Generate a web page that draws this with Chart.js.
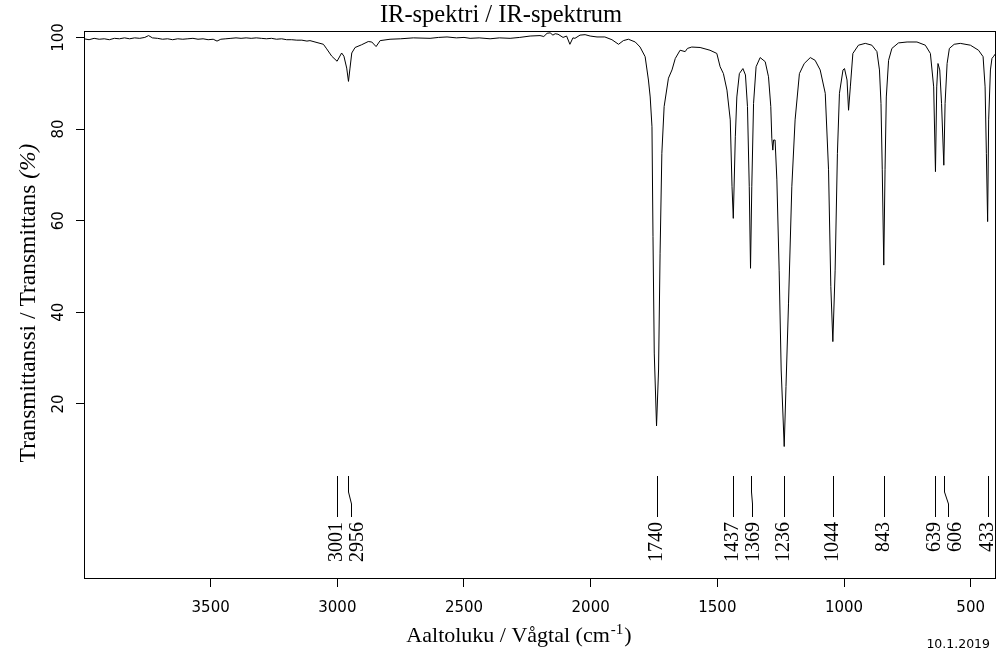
<!DOCTYPE html>
<html>
<head>
<meta charset="utf-8">
<script src="https://cdn.jsdelivr.net/npm/chart.js@4.4.0/dist/chart.umd.min.js"></script>
<style>
  html, body { margin: 0; padding: 0; background: #fff; }
  canvas { display: block; }
</style>
</head>
<body>
<canvas id="irChart" width="1008" height="667"></canvas>
<script>
// IR spectrum, wavenumber (cm-1) -> transmittance (%)
const wavenumbers = [
  4000, 3980, 3960, 3940, 3920, 3900, 3880, 3860, 3840, 3820,
  3800, 3780, 3760, 3745, 3730, 3710, 3690, 3670, 3650, 3630,
  3610, 3590, 3570, 3550, 3530, 3510, 3490, 3475, 3460, 3440,
  3420, 3400, 3380, 3360, 3340, 3320, 3300, 3280, 3260, 3240,
  3220, 3200, 3180, 3160, 3140, 3120, 3108, 3055, 3042, 3022,
  3001, 2983, 2974, 2963, 2956, 2950, 2943, 2930, 2904, 2878,
  2864, 2847, 2831, 2792, 2750, 2700, 2634, 2600, 2567, 2530,
  2500, 2476, 2440, 2397, 2360, 2318, 2280, 2239, 2200, 2185,
  2172, 2160, 2149, 2140, 2129, 2109, 2095, 2082, 2070, 2062,
  2042, 2022, 2002, 1975, 1944, 1916, 1890, 1871, 1851, 1824,
  1805, 1785, 1772, 1765, 1758, 1754, 1749, 1740, 1732, 1726,
  1719, 1710, 1693, 1679, 1666, 1647, 1627, 1618, 1601, 1568,
  1529, 1502, 1489, 1476, 1462, 1449, 1442, 1437, 1429, 1423,
  1413, 1399, 1389, 1381, 1374, 1369, 1364, 1357, 1347, 1331,
  1311, 1298, 1289, 1285, 1281, 1278, 1272, 1265, 1256, 1248,
  1236, 1229, 1219, 1206, 1193, 1176, 1157, 1133, 1114, 1094,
  1074, 1061, 1052, 1044, 1035, 1026, 1018, 1004, 998, 988,
  982, 975, 965, 943, 916, 890, 870, 860, 854, 849,
  843, 838, 833, 824, 811, 785, 751, 712, 679, 659,
  646, 639, 634, 629, 622, 615, 606, 601, 593, 584,
  565, 541, 501, 469, 451, 443, 438, 433, 429, 422,
  416, 409, 401
];
const transmittance = [
  99.7, 99.5, 99.8, 99.6, 99.7, 99.5, 99.8, 99.7, 99.9, 99.7,
  99.9, 99.8, 100.0, 100.4, 99.9, 99.8, 99.6, 99.7, 99.5, 99.7,
  99.6, 99.7, 99.8, 99.6, 99.7, 99.5, 99.6, 99.2, 99.6, 99.7,
  99.8, 99.9, 99.8, 99.9, 99.8, 99.9, 99.8, 99.7, 99.8, 99.6,
  99.7, 99.5, 99.5, 99.4, 99.4, 99.2, 99.3, 98.5, 97.5, 95.9,
  94.8, 96.6, 95.9, 93.3, 90.4, 93.3, 96.6, 97.8, 98.4, 99.1,
  99.0, 98.0, 99.3, 99.6, 99.7, 99.9, 99.8, 100.0, 100.1, 99.9,
  100.0, 99.8, 99.9, 99.7, 99.9, 99.8, 100.0, 100.3, 100.4, 100.2,
  100.9, 101.0, 100.5, 100.8, 100.7, 100.0, 100.3, 98.5, 99.9, 99.8,
  100.5, 100.6, 100.3, 100.1, 100.1, 99.5, 98.5, 99.3, 99.6, 99.0,
  97.9, 95.8, 90.7, 87.0, 80.5, 56.5, 31.1, 15.2, 27.4, 52.9,
  74.7, 84.9, 91.1, 92.9, 95.4, 97.2, 96.9, 97.6, 97.9, 97.8,
  97.2, 96.5, 93.6, 92.1, 88.5, 82.0, 67.4, 60.5, 78.3, 87.0,
  92.1, 93.2, 91.8, 84.9, 67.4, 49.6, 67.4, 85.6, 93.6, 95.6,
  94.7, 91.4, 84.9, 78.0, 75.4, 77.6, 77.6, 68.9, 49.2, 27.4,
  10.7, 23.8, 42.0, 67.4, 82.0, 92.1, 94.3, 95.6, 95.0, 92.9,
  87.8, 71.1, 45.6, 33.6, 49.2, 74.7, 87.8, 92.9, 93.2, 90.7,
  84.1, 89.2, 96.5, 98.3, 98.7, 98.3, 96.9, 92.9, 85.6, 71.1,
  50.3, 71.1, 87.0, 95.0, 97.6, 98.8, 99.0, 99.0, 98.3, 96.5,
  89.2, 70.7, 89.2, 94.3, 92.9, 85.6, 72.1, 85.6, 94.3, 97.6,
  98.5, 98.7, 98.3, 97.2, 95.8, 89.2, 74.7, 59.8, 82.0, 92.9,
  95.4, 95.9, 96.5
];
const peakLabels = [3001, 2956, 1740, 1437, 1369, 1236, 1044, 843, 639, 606, 433];
const xTicks = [3500, 3000, 2500, 2000, 1500, 1000, 500];
const yTicks = [20, 40, 60, 80, 100];

const serif = '"Liberation Serif", "DejaVu Serif", serif';
const sans = '"DejaVu Sans", sans-serif';

const points = wavenumbers.map((w, i) => ({ x: w, y: transmittance[i] }));

// push a crowded label to the right of its neighbour
function spreadLabels(xs, gap) {
    const out = [];
    xs.forEach((v, i) => {
        out.push(i > 0 && v - out[i - 1] < gap ? out[i - 1] + gap : v);
    });
    return out;
}

const decorations = {
    id: 'decorations',
    afterDraw(chart) {
        const { ctx, chartArea: a, scales: { x, y } } = chart;
        ctx.save();
        ctx.strokeStyle = '#000';
        ctx.fillStyle = '#000';
        ctx.lineWidth = 1;

        // plot frame
        ctx.strokeRect(a.left + 0.5, a.top + 0.5, a.right - a.left - 1, a.bottom - a.top);

        // y tick labels, rotated like the original
        ctx.font = '15px ' + sans;
        ctx.textAlign = 'center';
        ctx.textBaseline = 'alphabetic';
        yTicks.forEach(v => {
            ctx.save();
            ctx.translate(a.left - 21, y.getPixelForValue(v));
            ctx.rotate(-Math.PI / 2);
            ctx.fillText(String(v), 0, 0);
            ctx.restore();
        });

        // peak markers and labels
        const peakPx = peakLabels.map(p => x.getPixelForValue(p));
        const labelPx = spreadLabels(peakPx, 21);
        const top = a.bottom - 102, bendA = a.bottom - 86, bendB = a.bottom - 74, bottom = a.bottom - 61;
        ctx.font = '20px ' + serif;
        ctx.textAlign = 'right';
        peakLabels.forEach((p, i) => {
            const px = Math.round(peakPx[i]) + 0.5;
            const lx = Math.round(peakPx[i] + (labelPx[i] - peakPx[i]) * 0.3) + 0.5;
            ctx.beginPath();
            ctx.moveTo(px, top);
            ctx.lineTo(px, bendA);
            ctx.lineTo(lx, bendB);
            ctx.lineTo(lx, bottom);
            ctx.stroke();
            ctx.save();
            ctx.translate(labelPx[i] - 1.5 + 6.5, bottom + 5);
            ctx.rotate(-Math.PI / 2);
            ctx.fillText(String(p), 0, 0);
            ctx.restore();
        });

        // titles
        ctx.textAlign = 'center';
        ctx.font = '24.5px ' + serif;
        ctx.fillText('IR-spektri / IR-spektrum', 501, 22);

        // x title with superscript
        const main = 'Aaltoluku / Vågtal (cm';
        const sup = '-1';
        const close = ')';
        ctx.font = '22px ' + serif;
        const wMain = ctx.measureText(main).width;
        const wClose = ctx.measureText(close).width;
        ctx.font = '15px ' + serif;
        const wSup = ctx.measureText(sup).width;
        let sx = 518 - (wMain + wSup + wClose) / 2;
        ctx.textAlign = 'left';
        ctx.font = '22px ' + serif;
        ctx.fillText(main, sx, 642);
        ctx.font = '15px ' + serif;
        ctx.fillText(sup, sx + wMain + 1, 634);
        ctx.font = '22px ' + serif;
        ctx.fillText(close, sx + wMain + wSup + 2, 642);

        // y title, the unit in italics as in the original
        ctx.save();
        ctx.translate(35, 303);
        ctx.rotate(-Math.PI / 2);
        ctx.textAlign = 'left';
        const yMain = 'Transmittanssi / Transmittans ';
        const yUnit = '(%)';
        ctx.font = '23.5px ' + serif;
        const wYMain = ctx.measureText(yMain).width;
        ctx.font = 'italic 23.5px ' + serif;
        const wYUnit = ctx.measureText(yUnit).width;
        const sy = -(wYMain + wYUnit) / 2;
        ctx.font = '23.5px ' + serif;
        ctx.fillText(yMain, sy, 0);
        ctx.font = 'italic 23.5px ' + serif;
        ctx.fillText(yUnit, sy + wYMain, 0);
        ctx.restore();

        // date stamp
        ctx.font = '12.5px ' + sans;
        ctx.textAlign = 'right';
        ctx.fillText('10.1.2019', 990, 648);
        ctx.restore();
    }
};

new Chart(document.getElementById('irChart').getContext('2d'), {
    type: 'scatter',
    data: {
        datasets: [{
            data: points,
            showLine: true,
            borderColor: '#000',
            borderWidth: 1,
            pointRadius: 0,
            tension: 0
        }]
    },
    options: {
        responsive: false,
        animation: false,
        layout: { padding: { top: 31, right: 12, left: 0, bottom: 0 } },
        plugins: {
            legend: { display: false },
            tooltip: { enabled: false },
            title: { display: false }
        },
        scales: {
            x: {
                type: 'linear',
                reverse: true,
                min: 400,
                max: 4000,
                afterBuildTicks: scale => { scale.ticks = xTicks.map(v => ({ value: v })); },
                afterFit: scale => { scale.height = 89; },
                grid: { drawOnChartArea: false, drawTicks: true, tickLength: 9, color: '#000' },
                border: { display: false },
                ticks: {
                    color: '#000',
                    font: { family: sans, size: 15 },
                    padding: 12,
                    maxRotation: 0,
                    autoSkip: false,
                    callback: v => String(v)
                }
            },
            y: {
                type: 'linear',
                min: -18,
                max: 101.4,
                afterBuildTicks: scale => { scale.ticks = yTicks.map(v => ({ value: v })); },
                afterFit: scale => { scale.width = 84; },
                grid: { drawOnChartArea: false, drawTicks: true, tickLength: 8, color: '#000' },
                border: { display: false },
                ticks: { display: false }
            }
        }
    },
    plugins: [decorations]
});
</script>
</body>
</html>
